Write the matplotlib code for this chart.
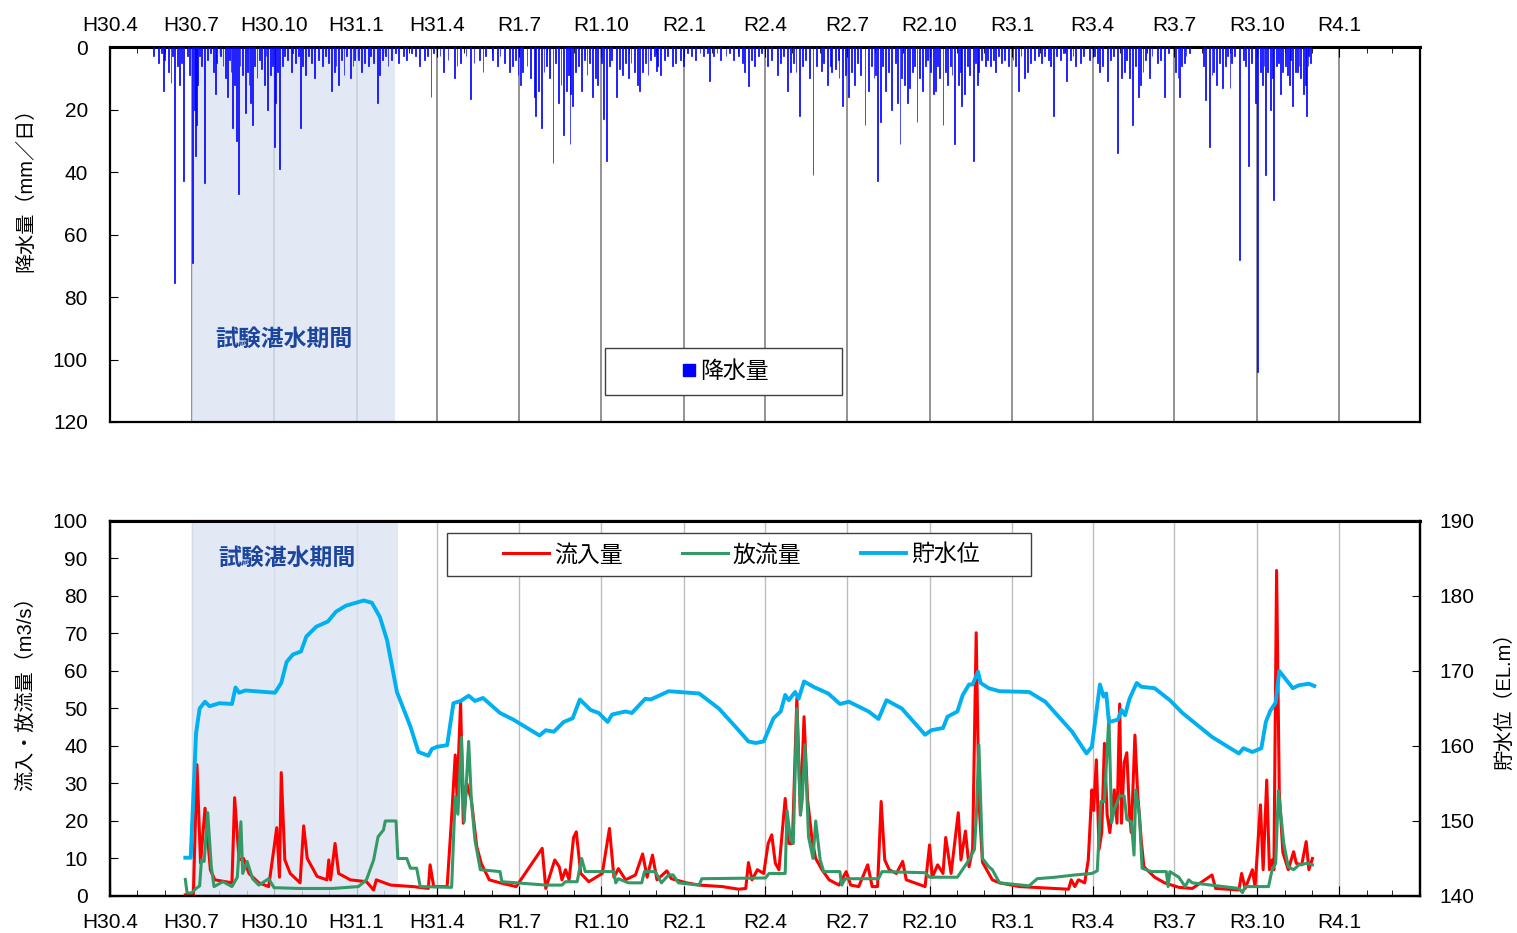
import matplotlib
matplotlib.use("Agg")
import matplotlib.pyplot as plt
import matplotlib.dates as mdates
from matplotlib.lines import Line2D
from matplotlib.patches import Rectangle
import pandas as pd

plt.rcParams['font.family'] = ['Liberation Sans', 'Noto Sans CJK JP']

# daily rainfall, the larger days (mm/day)
rain_big = [
    ("2018-05-31", 14), ("2018-06-08", 11.5), ("2018-06-12", 75.5), ("2018-06-22", 43),
    ("2018-07-02", 69), ("2018-07-15", 43.5), ("2018-08-10", 16), ("2018-08-16", 26),
    ("2018-08-22", 47), ("2018-08-30", 21), ("2018-09-24", 20), ("2018-10-01", 32),
    ("2018-10-07", 39), ("2018-10-30", 26), ("2018-12-04", 14), ("2019-01-24", 18),
    ("2019-03-25", 16), ("2019-05-08", 16.6), ("2019-07-26", 26), ("2019-08-08", 37),
    ("2019-08-27", 31), ("2019-08-30", 19), ("2019-09-21", 16), ("2019-10-03", 23),
    ("2019-10-07", 36.5), ("2019-10-18", 16), ("2019-10-31", 10), ("2019-11-13", 14),
    ("2019-12-01", 7.7), ("2020-01-01", 6), ("2020-01-30", 11), ("2020-03-13", 12.4),
    ("2020-04-26", 14), ("2020-05-09", 22), ("2020-05-24", 41), ("2020-06-02", 7.7),
    ("2020-06-14", 8), ("2020-06-22", 10), ("2020-06-26", 19), ("2020-07-21", 25),
    ("2020-08-04", 43), ("2020-08-07", 24), ("2020-08-20", 20), ("2020-08-29", 31),
    ("2020-09-09", 13), ("2020-09-17", 24), ("2020-10-05", 15), ("2020-10-16", 25),
    ("2020-10-29", 31), ("2020-11-06", 19), ("2020-11-19", 36.5), ("2020-11-25", 8),
    ("2021-01-08", 14), ("2021-01-15", 10), ("2021-02-16", 22), ("2021-03-03", 11),
    ("2021-03-18", 5), ("2021-04-17", 11), ("2021-04-29", 34), ("2021-05-03", 10),
    ("2021-05-15", 25), ("2021-05-22", 16), ("2021-05-27", 8), ("2021-06-03", 10),
    ("2021-06-20", 16), ("2021-07-05", 10), ("2021-07-07", 16), ("2021-07-12", 5),
    ("2021-08-05", 17), ("2021-08-09", 32), ("2021-08-24", 13), ("2021-09-01", 13),
    ("2021-09-12", 68), ("2021-09-22", 38), ("2021-09-29", 18), ("2021-10-02", 104),
    ("2021-10-11", 41), ("2021-10-16", 20), ("2021-10-20", 49), ("2021-10-27", 15),
    ("2021-11-10", 19), ("2021-11-13", 8), ("2021-11-22", 15), ("2021-11-25", 22),
    ("2021-11-30", 5),
]

# smaller rain days per month, "day:mm"
rain_small = {
    "2018-05": "20:3 25:5 28:2",
    "2018-06": "1:4 5:8 10:3 15:6 18:12 20:5 26:3 29:9",
    "2018-07": "4:20 5:35 6:25 8:12 10:3 12:6 19:4 22:2 25:8 28:15 29:5",
    "2018-08": "2:3 5:6 8:10 12:4 14:8 18:12 20:30 24:6 27:9",
    "2018-09": "1:8 3:12 5:18 7:25 9:6 12:10 15:4 17:7 20:12 22:3 27:9 29:6",
    "2018-10": "3:18 5:8 10:6 13:3 16:4 20:8 22:2 25:5 28:3",
    "2018-11": "2:6 5:9 8:3 12:5 15:10 20:4 24:6 27:3",
    "2018-12": "1:5 7:8 9:6 12:12 15:4 18:9 21:3 25:10 28:6 30:4",
    "2019-01": "3:4 6:8 10:5 14:6 17:3 20:5 27:9 30:4",
    "2019-02": "2:3 5:6 9:4 13:2 17:5 22:3 26:4",
    "2019-03": "3:2 8:3 12:6 18:4 21:3 28:2",
    "2019-04": "4:3 8:8 13:4 20:10 23:6 27:5",
    "2019-05": "3:3 12:5 18:4 22:8 25:3",
    "2019-06": "2:4 7:6 10:3 15:5 21:8 24:6 27:4 30:9",
    "2019-07": "3:12 5:8 10:6 14:10 18:16 20:22 23:14 29:8",
    "2019-08": "1:6 4:10 11:5 14:18 17:12 20:28 23:14 25:9 28:15",
    "2019-09": "2:8 5:6 9:14 12:4 15:9 18:5 24:10 27:12",
    "2019-10": "1:5 10:6 12:4 21:7 25:9 28:5",
    "2019-11": "3:5 7:8 10:12 16:8 19:5 22:9 25:4 29:3",
    "2019-12": "3:6 6:9 10:4 14:3 19:6 23:5 28:4",
    "2020-01": "5:2 10:3 14:4 19:2 23:3 27:2",
    "2020-02": "3:3 7:2 11:4 17:3 21:2 25:4",
    "2020-03": "2:3 6:5 9:8 16:4 20:6 24:3 28:2",
    "2020-04": "3:6 8:4 14:9 18:5 21:3 29:8",
    "2020-05": "2:5 5:8 12:6 16:4 20:10 28:6",
    "2020-06": "5:5 9:12 13:6 18:7 21:4 29:9",
    "2020-07": "3:16 6:8 9:12 13:5 16:9 25:14 28:6 31:10",
    "2020-08": "2:9 10:6 13:14 16:8 24:5 26:18 31:10",
    "2020-09": "3:12 6:18 12:8 14:6 20:10 23:14 26:6 29:4",
    "2020-10": "2:8 8:14 10:6 12:10 19:8 21:12 24:6 26:9",
    "2020-11": "2:12 4:8 9:15 12:6 15:9 21:5 23:12 28:4",
    "2020-12": "2:6 5:4 8:6 11:4 14:8 17:3 20:5 24:4 28:6",
    "2021-01": "2:4 5:6 11:3 18:8 22:5 26:4 30:3",
    "2021-02": "3:5 6:3 11:4 13:6 20:3 24:4 27:2",
    "2021-03": "7:4 10:3 13:6 22:3 28:4",
    "2021-04": "3:3 6:5 9:8 12:6 21:4 24:3",
    "2021-05": "6:8 9:4 12:10 19:6 24:12 30:4",
    "2021-06": "6:3 12:5 16:4 24:2",
    "2021-07": "2:8 9:6 14:3 18:2",
    "2021-08": "2:6 12:9 14:8 17:12 20:5 27:6 29:3",
    "2021-09": "3:5 6:3 16:4 18:6 25:5",
    "2021-10": "5:8 7:12 9:6 13:8 18:10 23:6 25:5 30:8",
    "2021-11": "2:6 4:9 6:12 8:4 15:8 17:6 19:10 24:12 27:6 28:3",
}

# reservoir level (EL.m)
level = [
    ("2018-06-24", 145.1), ("2018-06-30", 145.1), ("2018-07-06", 161.7), ("2018-07-10", 165.0),
    ("2018-07-16", 165.9), ("2018-07-21", 165.3), ("2018-08-01", 165.7), ("2018-08-15", 165.6),
    ("2018-08-19", 167.8), ("2018-08-23", 167.1), ("2018-08-30", 167.4), ("2018-10-02", 167.1),
    ("2018-10-09", 168.4), ("2018-10-15", 171.2), ("2018-10-22", 172.2), ("2018-10-31", 172.6),
    ("2018-11-06", 174.6), ("2018-11-17", 175.9), ("2018-11-30", 176.6), ("2018-12-09", 177.9),
    ("2018-12-20", 178.7), ("2019-01-09", 179.4), ("2019-01-18", 179.1), ("2019-01-27", 177.2),
    ("2019-02-04", 174.1), ("2019-02-15", 167.2), ("2019-03-02", 162.6), ("2019-03-11", 159.2),
    ("2019-03-22", 158.7), ("2019-03-26", 159.6), ("2019-04-01", 159.9), ("2019-04-12", 160.1),
    ("2019-04-19", 165.7), ("2019-04-27", 166.0), ("2019-05-06", 166.7), ("2019-05-13", 166.0),
    ("2019-05-22", 166.4), ("2019-06-10", 164.4), ("2019-06-25", 163.5), ("2019-07-24", 161.4),
    ("2019-07-31", 162.1), ("2019-08-09", 161.9), ("2019-08-20", 163.2), ("2019-08-30", 163.7),
    ("2019-09-07", 166.2), ("2019-09-19", 164.8), ("2019-09-28", 164.4), ("2019-10-08", 163.2),
    ("2019-10-13", 164.2), ("2019-10-28", 164.6), ("2019-11-04", 164.4), ("2019-11-19", 166.3),
    ("2019-11-25", 166.2), ("2019-12-15", 167.3), ("2020-01-18", 167.0), ("2020-02-09", 165.0),
    ("2020-03-02", 162.1), ("2020-03-13", 160.6), ("2020-03-21", 160.4), ("2020-03-30", 160.6),
    ("2020-04-10", 163.7), ("2020-04-18", 164.6), ("2020-04-23", 166.8), ("2020-04-27", 166.1),
    ("2020-05-04", 167.2), ("2020-05-08", 166.3), ("2020-05-14", 168.6), ("2020-05-26", 167.8),
    ("2020-06-10", 167.0), ("2020-06-23", 165.6), ("2020-07-03", 165.9), ("2020-07-25", 164.6),
    ("2020-08-05", 163.6), ("2020-08-14", 166.1), ("2020-08-31", 165.0), ("2020-09-26", 161.5),
    ("2020-10-03", 162.1), ("2020-10-16", 162.4), ("2020-10-21", 163.9), ("2020-11-01", 164.6),
    ("2020-11-07", 166.8), ("2020-11-14", 168.2), ("2020-11-18", 168.2), ("2020-11-24", 169.9),
    ("2020-11-27", 168.4), ("2020-12-06", 167.7), ("2020-12-18", 167.3), ("2021-01-20", 167.2),
    ("2021-02-07", 165.9), ("2021-03-09", 161.9), ("2021-03-25", 159.0), ("2021-03-31", 159.9),
    ("2021-04-09", 168.2), ("2021-04-13", 166.6), ("2021-04-16", 167.0), ("2021-04-19", 163.2),
    ("2021-04-29", 163.5), ("2021-05-03", 164.8), ("2021-05-07", 164.1), ("2021-05-12", 166.3),
    ("2021-05-20", 168.4), ("2021-05-25", 167.9), ("2021-06-09", 167.7), ("2021-06-26", 166.1),
    ("2021-07-10", 164.4), ("2021-08-12", 161.2), ("2021-08-31", 159.8), ("2021-09-11", 159.0),
    ("2021-09-16", 159.7), ("2021-09-26", 159.2), ("2021-10-06", 159.7), ("2021-10-11", 163.2),
    ("2021-10-16", 164.7), ("2021-10-22", 165.8), ("2021-10-26", 170.0), ("2021-11-10", 167.7),
    ("2021-11-17", 168.1), ("2021-11-28", 168.3), ("2021-12-04", 168.0),
]

# inflow (m3/s)
inflow = [
    ("2018-06-24", 0.3), ("2018-07-03", 0.5), ("2018-07-07", 35), ("2018-07-11", 8.8),
    ("2018-07-16", 23.4), ("2018-07-22", 6.9), ("2018-07-27", 4.3), ("2018-08-15", 3.5),
    ("2018-08-18", 26.2), ("2018-08-23", 9.6), ("2018-08-28", 10), ("2018-09-03", 6),
    ("2018-09-14", 3.5), ("2018-09-25", 2.5), ("2018-10-04", 18.2), ("2018-10-07", 5),
    ("2018-10-09", 32.9), ("2018-10-13", 9.6), ("2018-10-19", 6), ("2018-10-30", 3.5),
    ("2018-11-03", 18.7), ("2018-11-07", 10), ("2018-11-18", 5.2), ("2018-11-29", 4.3),
    ("2018-12-01", 9.6), ("2018-12-03", 4.3), ("2018-12-08", 14), ("2018-12-12", 6),
    ("2018-12-25", 4.3), ("2019-01-12", 3.8), ("2019-01-20", 1.6), ("2019-01-23", 4.3),
    ("2019-02-08", 2.9), ("2019-03-05", 2.5), ("2019-03-22", 2), ("2019-03-24", 8.3),
    ("2019-03-28", 2.5), ("2019-04-12", 2.5), ("2019-04-17", 21), ("2019-04-21", 37.6),
    ("2019-04-23", 26.5), ("2019-04-27", 51.8), ("2019-04-30", 19.4), ("2019-05-04", 30),
    ("2019-05-09", 25.6), ("2019-05-15", 13.2), ("2019-05-20", 8.7), ("2019-05-29", 4.3),
    ("2019-06-10", 3.5), ("2019-06-28", 2.5), ("2019-07-27", 12.7), ("2019-07-31", 2),
    ("2019-08-10", 9.6), ("2019-08-15", 7.8), ("2019-08-18", 4.3), ("2019-08-22", 7),
    ("2019-08-26", 4.3), ("2019-08-31", 15.6), ("2019-09-03", 17.1), ("2019-09-08", 6),
    ("2019-09-17", 3.8), ("2019-10-02", 6), ("2019-10-10", 18), ("2019-10-15", 5),
    ("2019-10-20", 7.3), ("2019-10-28", 4.3), ("2019-11-08", 5.6), ("2019-11-16", 11.2),
    ("2019-11-21", 5), ("2019-11-27", 10.9), ("2019-12-02", 4.3), ("2019-12-13", 6.7),
    ("2019-12-18", 4.6), ("2020-01-04", 3.5), ("2020-01-18", 2.9), ("2020-02-13", 2.5),
    ("2020-03-02", 1.8), ("2020-03-10", 2), ("2020-03-13", 8.9), ("2020-03-17", 4.3),
    ("2020-03-23", 7), ("2020-03-30", 6), ("2020-04-04", 14), ("2020-04-08", 16.3),
    ("2020-04-12", 8.7), ("2020-04-16", 7), ("2020-04-23", 26), ("2020-04-27", 14),
    ("2020-05-01", 14), ("2020-05-06", 52.7), ("2020-05-10", 21.6), ("2020-05-14", 47.8),
    ("2020-05-18", 25.6), ("2020-05-23", 14.9), ("2020-05-27", 10), ("2020-06-03", 7),
    ("2020-06-11", 4.3), ("2020-06-22", 2.9), ("2020-06-30", 6.5), ("2020-07-05", 2.9),
    ("2020-07-14", 2.5), ("2020-07-24", 8.3), ("2020-07-29", 2.5), ("2020-08-04", 2.5),
    ("2020-08-08", 25.2), ("2020-08-12", 9.6), ("2020-08-17", 7), ("2020-08-25", 6),
    ("2020-09-01", 9.2), ("2020-09-05", 4.3), ("2020-09-26", 2.5), ("2020-10-01", 13.6),
    ("2020-10-04", 5), ("2020-10-10", 8.3), ("2020-10-16", 6), ("2020-10-19", 15.6),
    ("2020-10-25", 6), ("2020-11-02", 22.2), ("2020-11-05", 9.6), ("2020-11-10", 17.3),
    ("2020-11-14", 7.8), ("2020-11-18", 12.4), ("2020-11-22", 70.2), ("2020-11-25", 25.6),
    ("2020-11-29", 9), ("2020-12-06", 6), ("2020-12-10", 4.3), ("2020-12-18", 3.5),
    ("2021-01-09", 2.5), ("2021-02-18", 2), ("2021-03-05", 1.8), ("2021-03-08", 4.3),
    ("2021-03-12", 2.5), ("2021-03-16", 4.3), ("2021-03-23", 3.5), ("2021-03-27", 9.6),
    ("2021-03-31", 28.3), ("2021-04-02", 22.8), ("2021-04-05", 36.3), ("2021-04-08", 12.4),
    ("2021-04-11", 16.9), ("2021-04-14", 40.7), ("2021-04-17", 21.8), ("2021-04-20", 16.9),
    ("2021-04-25", 28.3), ("2021-04-28", 19.4), ("2021-05-01", 51.2), ("2021-05-03", 19.4),
    ("2021-05-06", 35.6), ("2021-05-09", 38.2), ("2021-05-12", 21.8), ("2021-05-14", 16.9),
    ("2021-05-18", 42.9), ("2021-05-21", 27.6), ("2021-05-25", 15), ("2021-05-28", 7.8),
    ("2021-06-09", 5), ("2021-06-20", 3.5), ("2021-07-06", 2.3), ("2021-07-21", 2),
    ("2021-08-12", 5.6), ("2021-08-16", 2), ("2021-09-11", 1.6), ("2021-09-14", 6),
    ("2021-09-18", 2), ("2021-09-26", 7), ("2021-09-29", 2.5), ("2021-10-05", 24.3),
    ("2021-10-08", 7), ("2021-10-12", 30.9), ("2021-10-15", 7), ("2021-10-18", 9.6),
    ("2021-10-20", 7), ("2021-10-23", 86.8), ("2021-10-26", 27.6), ("2021-10-30", 11.6),
    ("2021-11-05", 7), ("2021-11-11", 11.8), ("2021-11-14", 8.7), ("2021-11-20", 8.3),
    ("2021-11-25", 14.5), ("2021-11-28", 7), ("2021-12-02", 10),
]

# outflow (m3/s)
outflow = [
    ("2018-06-24", 4.4), ("2018-06-26", 0.8), ("2018-07-01", 0.8), ("2018-07-06", 2),
    ("2018-07-10", 2.7), ("2018-07-12", 9.6), ("2018-07-15", 9.2), ("2018-07-19", 22.2),
    ("2018-07-23", 7.8), ("2018-07-26", 2.5), ("2018-08-05", 3.8), ("2018-08-15", 2.5),
    ("2018-08-21", 5), ("2018-08-25", 19.8), ("2018-08-27", 6), ("2018-09-01", 9.2),
    ("2018-09-07", 4.6), ("2018-09-14", 2.9), ("2018-09-25", 4.6), ("2018-10-01", 2.2),
    ("2018-10-29", 2), ("2018-12-05", 2), ("2019-01-03", 2.5), ("2019-01-12", 4.3),
    ("2019-01-20", 9.6), ("2019-01-25", 15.8), ("2019-01-31", 17.6), ("2019-02-02", 20),
    ("2019-02-14", 20), ("2019-02-16", 10), ("2019-02-26", 10), ("2019-03-02", 7.4),
    ("2019-03-09", 7.4), ("2019-03-13", 2.5), ("2019-04-17", 2.3), ("2019-04-21", 26.5),
    ("2019-04-24", 21.8), ("2019-04-28", 42.3), ("2019-05-01", 19.8), ("2019-05-06", 41.2),
    ("2019-05-09", 25.6), ("2019-05-13", 14.9), ("2019-05-19", 7), ("2019-06-10", 6.5),
    ("2019-06-12", 3.8), ("2019-07-31", 2.9), ("2019-08-18", 2.9), ("2019-08-22", 3.8),
    ("2019-09-04", 3.8), ("2019-09-09", 10), ("2019-09-13", 6.5), ("2019-10-15", 6.5),
    ("2019-10-17", 3.5), ("2019-10-20", 4.6), ("2019-10-31", 3.5), ("2019-11-15", 3.5),
    ("2019-11-18", 6.5), ("2019-11-30", 6.5), ("2019-12-07", 3.5), ("2019-12-15", 5.6),
    ("2019-12-20", 5.6), ("2019-12-26", 3.5), ("2020-01-18", 2.9), ("2020-01-21", 4.6),
    ("2020-04-01", 4.8), ("2020-04-05", 6), ("2020-04-23", 6), ("2020-04-25", 22.8),
    ("2020-04-29", 14.9), ("2020-05-02", 14), ("2020-05-06", 50), ("2020-05-10", 21.6),
    ("2020-05-12", 25.6), ("2020-05-15", 40.3), ("2020-05-19", 15.8), ("2020-05-24", 10),
    ("2020-05-27", 20), ("2020-06-01", 9.6), ("2020-06-05", 6.5), ("2020-06-23", 6.5),
    ("2020-06-25", 2.9), ("2020-06-29", 4.6), ("2020-08-05", 4.6), ("2020-08-09", 6.5),
    ("2020-09-26", 6.2), ("2020-10-01", 5), ("2020-11-01", 5), ("2020-11-14", 9.6),
    ("2020-11-20", 12.4), ("2020-11-22", 20.4), ("2020-11-25", 40.3), ("2020-11-29", 10),
    ("2020-12-06", 7.8), ("2020-12-10", 7), ("2020-12-18", 3.5), ("2021-01-20", 2.7),
    ("2021-01-29", 4.6), ("2021-02-18", 5), ("2021-03-12", 5.6), ("2021-03-31", 6),
    ("2021-04-06", 6.7), ("2021-04-10", 25.2), ("2021-04-14", 25.2), ("2021-04-19", 47.8),
    ("2021-04-22", 19.6), ("2021-04-25", 23.1), ("2021-05-01", 26.7), ("2021-05-06", 26.7),
    ("2021-05-09", 20.4), ("2021-05-14", 19.8), ("2021-05-17", 10.9), ("2021-05-19", 28.3),
    ("2021-05-23", 21.8), ("2021-05-26", 7.4), ("2021-06-05", 6.5), ("2021-06-22", 6.5),
    ("2021-06-24", 2.5), ("2021-06-26", 6.5), ("2021-07-06", 5), ("2021-07-13", 2.5),
    ("2021-07-17", 4.3), ("2021-07-21", 3.5), ("2021-09-11", 2), ("2021-09-15", 0.9),
    ("2021-09-18", 2.5), ("2021-10-14", 2.5), ("2021-10-18", 7), ("2021-10-22", 8.7),
    ("2021-10-25", 28.1), ("2021-10-31", 14), ("2021-11-05", 7.8), ("2021-11-11", 7),
    ("2021-11-17", 8.3), ("2021-11-26", 8.7), ("2021-12-02", 8.3),
]

quarter_labels = ["H30.4", "H30.7", "H30.10", "H31.1", "H31.4", "R1.7", "R1.10", "R2.1",
                  "R2.4", "R2.7", "R2.10", "R3.1", "R3.4", "R3.7", "R3.10", "R4.1"]
quarter_dates = pd.date_range("2018-04-01", "2022-01-01", freq="QS")
x_start, x_end = pd.Timestamp("2018-04-01"), pd.Timestamp("2022-04-01")
test_start, test_end = pd.Timestamp("2018-07-01"), pd.Timestamp("2019-02-13")

# build rainfall series
rain_d = [pd.Timestamp(d) for d, v in rain_big]
rain_v = [v for d, v in rain_big]
for month, s in rain_small.items():
    for item in s.split():
        day, mm = item.split(":")
        rain_d.append(pd.Timestamp(f"{month}-{int(day):02d}"))
        rain_v.append(float(mm))


def split(pairs):
    return [pd.Timestamp(d) for d, v in pairs], [v for d, v in pairs]


lev_d, lev_v = split(level)
in_d, in_v = split(inflow)
out_d, out_v = split(outflow)

FS = 15
shade = '#dbe4f2'
title_blue = '#1c469e'

fig = plt.figure(figsize=(15.17, 9.33), dpi=100)
ax1 = fig.add_axes([0.0725, 0.5477, 0.8636, 0.4019])
ax2 = fig.add_axes([0.0725, 0.0397, 0.8636, 0.4019])

# ---- top: rainfall
ax1.set_axisbelow(True)
ax1.grid(axis='x', color='#808080', linewidth=1.2)
ax1.axvspan(test_start, test_end, color=shade, alpha=0.8, zorder=1, linewidth=0)
ax1.bar(rain_d, rain_v, width=1.0, color='#0000ff', edgecolor='#0000ff', linewidth=0.5, zorder=3)
ax1.set_xlim(x_start, x_end)
ax1.set_ylim(120, 0)
ax1.set_yticks(range(0, 121, 20))
ax1.set_xticks(quarter_dates)
ax1.set_xticklabels(quarter_labels)
ax1.xaxis.set_minor_locator(mdates.MonthLocator())
ax1.tick_params(axis='x', which='both', direction='in', top=True, bottom=False,
                labeltop=True, labelbottom=False, labelsize=FS, pad=9)
ax1.tick_params(axis='x', which='major', length=7)
ax1.tick_params(axis='x', which='minor', length=4)
ax1.tick_params(axis='y', direction='in', length=6, labelsize=FS, pad=16)
ax1.set_ylabel("降水量（mm／日）", fontsize=14.5)
ax1.yaxis.set_label_coords(-0.057, 0.632)
for sp in ax1.spines.values():
    sp.set_linewidth(1.6)
    sp.set_color('black')
ax1.spines['top'].set_linewidth(2.2)

ax1.text(0.133, 0.219, "試験湛水期間", transform=ax1.transAxes, ha='center', va='center',
         fontsize=16.5, fontweight='bold', color=title_blue, zorder=4)

ax1.add_patch(Rectangle((0.378, 0.072), 0.181, 0.125, transform=ax1.transAxes,
                        facecolor='white', edgecolor='#404040', linewidth=1, zorder=5))
h_rain = Line2D([], [], marker='s', linestyle='none', color='#0000ff', markersize=8)
leg1 = ax1.legend([h_rain], ["降水量"], loc='center', bbox_to_anchor=(0.468, 0.135),
                  frameon=False, fontsize=16.5, handletextpad=0.0, handlelength=1.0)
leg1.set_zorder(6)

# ---- bottom: flows and level
ax2r = ax2.twinx()
ax2.set_axisbelow(True)
ax2.grid(axis='x', color='#bdbdbd', linewidth=1.0)
ax2.axvspan(test_start, test_end + pd.Timedelta(days=3), color=shade, alpha=0.8, zorder=1, linewidth=0)
l_in, = ax2.plot(in_d, in_v, color='#ff0000', linewidth=2.2, zorder=3)
l_out, = ax2.plot(out_d, out_v, color='#339966', linewidth=2.2, zorder=4)
l_lev, = ax2r.plot(lev_d, lev_v, color='#00b0f0', linewidth=2.8)

ax2.set_xlim(x_start, x_end)
ax2.set_ylim(0, 100)
ax2.set_yticks(range(0, 101, 10))
ax2r.set_ylim(140, 190)
ax2r.set_yticks(range(140, 191, 10))
ax2.set_xticks(quarter_dates)
ax2.set_xticklabels(quarter_labels)
ax2.xaxis.set_minor_locator(mdates.MonthLocator())
ax2.tick_params(axis='x', which='both', direction='in', labelsize=FS, pad=12)
ax2.tick_params(axis='x', which='major', length=7)
ax2.tick_params(axis='x', which='minor', length=4)
ax2.tick_params(axis='y', direction='in', length=6, labelsize=FS, pad=16)
ax2r.tick_params(axis='y', direction='in', length=6, labelsize=FS, pad=14)
ax2.set_ylabel("流入・放流量（m3/s）", fontsize=14.5)
ax2.yaxis.set_label_coords(-0.057, 0.552)
ax2r.set_ylabel("貯水位（EL.m）", fontsize=14.5)
ax2r.yaxis.set_label_coords(1.057, 0.533)
for a in (ax2, ax2r):
    for sp in a.spines.values():
        sp.set_linewidth(1.6)
        sp.set_color('black')
ax2r.spines['top'].set_linewidth(2.2)

ax2.text(0.135, 0.901, "試験湛水期間", transform=ax2.transAxes, ha='center', va='center',
         fontsize=16.5, fontweight='bold', color=title_blue, zorder=4)

ax2r.add_patch(Rectangle((0.257, 0.853), 0.446, 0.115, transform=ax2r.transAxes,
                         facecolor='white', edgecolor='#404040', linewidth=1, zorder=5))
leg2 = ax2r.legend([l_in, l_out, l_lev], ["流入量", "放流量", "貯水位"], loc='center',
                   bbox_to_anchor=(0.482, 0.91), frameon=False, ncol=3, fontsize=16.5,
                   handlelength=2.0, handletextpad=0.2, columnspacing=2.6)
leg2.set_zorder(6)

fig.savefig("out.png", dpi=100)
